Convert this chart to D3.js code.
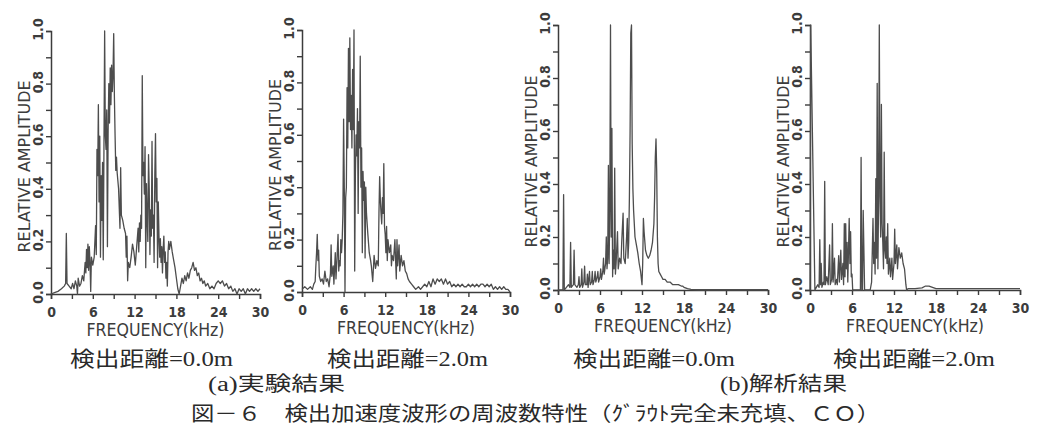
<!DOCTYPE html>
<html><head><meta charset="utf-8">
<script src="https://cdn.jsdelivr.net/npm/d3@7"></script>
<style>
html,body{margin:0;padding:0;background:#fff;}
svg{display:block;}
</style></head>
<body>
<svg id="chart" width="1037" height="436"></svg>
<script>
// ---------------- DATA ----------------
const xTickValues = [0,3,6,9,12,15,18,21,24,27,30];
const xTickLabels = ["0","6","12","18","24","30"];
const yTickValues = [0,0.1,0.2,0.3,0.4,0.5,0.6,0.7,0.8,0.9,1.0];
const yTickLabels = ["0.0","0.2","0.4","0.6","0.8","1.0"];
const xTitle = "FREQUENCY(kHz)";
const yTitle = "RELATIVE AMPLITUDE";
const distanceLabels = ["検出距離=0.0m","検出距離=2.0m","検出距離=0.0m","検出距離=2.0m"];
const groupLabels = ["(a)実験結果","(b)解析結果"];
const caption = "図－６　検出加速度波形の周波数特性（ｸﾞﾗｳﾄ完全未充填、ＣＯ）";

// (a) experiment, distance 0.0 m
const freqA1 = [0,0.5,1.0,1.5,1.9,2.1,2.2,2.3,2.6,2.9,3.1,3.3,3.5,3.7,3.8,3.9,4.1,4.3,4.5,4.7,4.9,5.0,5.1,5.2,5.3,5.4,5.5,5.6,5.7,5.8,6.0,6.2,6.4,6.5,6.6,6.7,6.8,6.9,7.0,7.1,7.2,7.3,7.4,7.5,7.6,7.7,7.8,7.9,8.0,8.1,8.2,8.3,8.4,8.5,8.6,8.7,8.8,8.9,9.0,9.1,9.2,9.3,9.4,9.5,9.7,9.9,10.0,10.1,10.3,10.5,10.7,10.8,10.9,11.0,11.1,11.3,11.5,11.7,11.9,12.1,12.3,12.5,12.6,12.7,12.8,12.9,13.0,13.1,13.2,13.3,13.4,13.5,13.6,13.7,13.8,13.9,14.0,14.1,14.2,14.3,14.4,14.5,14.6,14.7,14.8,14.9,15.0,15.1,15.2,15.3,15.4,15.5,15.6,15.7,15.8,15.9,16.0,16.1,16.2,16.3,16.4,16.5,16.6,16.7,16.8,16.9,17.0,17.2,17.4,17.6,17.8,18.0,18.2,18.4,18.6,18.8,19.0,19.2,19.4,19.6,19.8,20.0,20.2,20.4,20.6,20.8,21.0,21.2,21.4,21.6,21.8,22.0,22.2,22.5,22.8,23.1,23.4,23.7,24.0,24.3,24.6,24.9,25.2,25.5,25.8,26.1,26.4,26.7,27.0,27.3,27.6,27.9,28.2,28.5,28.8,29.1,29.4,29.7,30.0];
const ampA1  = [0,0.005,0.01,0.02,0.03,0.04,0.23,0.04,0.03,0.02,0.04,0.02,0.05,0.03,0.0,0.06,0.03,0.04,0.07,0.05,0.12,0.08,0.17,0.10,0.19,0.09,0.18,0.12,0.01,0.14,0.11,0.14,0.26,0.15,0.55,0.45,0.72,0.35,0.60,0.14,0.45,0.28,0.50,0.13,0.55,1.00,0.60,0.55,0.70,0.18,0.62,0.80,0.65,0.86,0.72,0.87,0.77,0.83,0.99,0.75,0.60,0.47,0.52,0.46,0.40,0.25,0.48,0.30,0.28,0.25,0.23,0.14,0.22,0.05,0.12,0.10,0.14,0.19,0.16,0.11,0.18,0.25,0.16,0.27,0.20,0.30,0.25,0.83,0.45,0.50,0.38,0.56,0.10,0.42,0.29,0.20,0.53,0.40,0.15,0.32,0.22,0.58,0.25,0.30,0.12,0.45,0.61,0.35,0.44,0.10,0.35,0.22,0.14,0.21,0.12,0.18,0.08,0.17,0.22,0.12,0.16,0.06,0.12,0.03,0.16,0.20,0.17,0.20,0.16,0.13,0.10,0.06,0.02,0.0,0.03,0.06,0.04,0.07,0.05,0.08,0.06,0.09,0.10,0.12,0.09,0.10,0.07,0.08,0.05,0.06,0.04,0.05,0.03,0.04,0.02,0.03,0.02,0.04,0.05,0.04,0.05,0.03,0.04,0.02,0.03,0.01,0.02,0.0,0.02,0.01,0.02,0.0,0.02,0.01,0.02,0.01,0.02,0.01,0.02];

// (a) experiment, distance 2.0 m
const freqA2 = [0,0.4,0.8,1.2,1.5,1.7,1.9,2.0,2.1,2.2,2.3,2.4,2.5,2.7,2.9,3.1,3.3,3.5,3.7,3.9,4.1,4.2,4.3,4.5,4.6,4.8,4.9,5.0,5.2,5.3,5.4,5.5,5.6,5.7,5.8,5.9,6.0,6.1,6.2,6.3,6.4,6.5,6.6,6.7,6.8,6.9,7.0,7.1,7.2,7.3,7.4,7.5,7.6,7.7,7.8,7.9,8.0,8.1,8.2,8.3,8.4,8.5,8.6,8.7,8.8,8.9,9.0,9.1,9.2,9.3,9.5,9.7,9.9,10.0,10.2,10.4,10.6,10.8,11.0,11.1,11.2,11.3,11.4,11.5,11.6,11.7,11.8,11.9,12.0,12.1,12.2,12.3,12.4,12.6,12.8,12.9,13.0,13.2,13.4,13.5,13.6,13.7,13.8,14.0,14.1,14.3,14.5,14.7,14.9,15.1,15.3,15.5,15.8,16.1,16.4,16.8,17.1,17.4,17.7,18.0,18.3,18.6,18.9,19.2,19.5,19.8,20.1,20.4,20.7,21.0,21.3,21.6,21.9,22.2,22.5,22.8,23.1,23.4,23.7,24.0,24.3,24.6,24.9,25.2,25.5,25.8,26.1,26.4,26.7,27.0,27.3,27.6,27.9,28.2,28.5,28.8,29.1,29.4,29.7,30.0];
const ampA2  = [0.01,0.02,0.01,0.02,0.01,0.03,0.04,0.10,0.15,0.22,0.12,0.16,0.06,0.04,0.05,0.03,0.08,0.04,0.05,0.02,0.07,0.18,0.06,0.10,0.03,0.15,0.05,0.10,0.22,0.08,0.12,0.10,0.20,0.15,0.20,0.30,0.66,0.40,0.00,0.36,0.40,0.78,0.55,0.93,0.65,0.97,0.62,0.75,0.55,0.85,0.62,1.00,0.08,0.45,0.60,0.52,0.70,0.30,0.65,0.55,0.90,0.40,0.55,0.15,0.46,0.35,0.42,0.13,0.40,0.30,0.22,0.15,0.12,0.10,0.04,0.14,0.09,0.12,0.10,0.30,0.44,0.35,0.30,0.26,0.36,0.30,0.49,0.25,0.22,0.15,0.25,0.12,0.20,0.15,0.18,0.10,0.14,0.12,0.20,0.12,0.05,0.20,0.10,0.18,0.08,0.14,0.10,0.12,0.08,0.07,0.05,0.04,0.03,0.02,0.01,0.02,0.01,0.02,0.03,0.02,0.04,0.02,0.05,0.03,0.05,0.04,0.05,0.03,0.05,0.03,0.04,0.02,0.03,0.02,0.03,0.02,0.03,0.02,0.02,0.03,0.02,0.03,0.02,0.03,0.02,0.03,0.03,0.02,0.03,0.02,0.03,0.01,0.02,0.01,0.02,0.01,0.02,0.01,0.01,0.00];

// (b) analysis, distance 0.0 m
const freqB1 = [0,0.7,0.8,0.9,1.2,1.5,1.7,1.8,1.9,2.2,2.3,2.4,2.7,2.9,3.0,3.1,3.3,3.4,3.5,3.7,3.8,3.9,4.1,4.2,4.3,4.5,4.6,4.8,4.9,5.0,5.2,5.3,5.4,5.6,5.7,5.8,6.0,6.1,6.2,6.4,6.5,6.6,6.8,6.9,7.0,7.1,7.2,7.3,7.4,7.5,7.6,7.7,7.8,7.9,8.0,8.1,8.2,8.3,8.5,8.6,8.8,9.0,9.1,9.3,9.4,9.6,9.8,9.9,10.0,10.1,10.2,10.3,10.4,10.5,10.6,10.7,10.8,11.0,11.2,11.4,11.6,11.8,12.0,12.1,12.2,12.3,12.5,12.7,12.9,13.1,13.3,13.5,13.7,13.8,13.9,14.0,14.1,14.2,14.3,14.4,14.6,14.8,15.0,15.3,15.6,16.0,16.4,16.8,17.2,17.6,17.8,18.0,18.5,19.0,20.0,30.0];
const ampB1  = [0,0,0.36,0,0.01,0.02,0.01,0.18,0.01,0.02,0.15,0.02,0.01,0.02,0.05,0.01,0.02,0.08,0.01,0.03,0.09,0.02,0.02,0.06,0.01,0.07,0.02,0.03,0.07,0.02,0.04,0.07,0.03,0.05,0.07,0.03,0.05,0.08,0.04,0.07,0.12,0.06,0.10,0.20,0.08,0.12,0.47,0.10,0.30,1.00,0.20,0.61,0.05,0.15,0.08,0.46,0.06,0.10,0.22,0.08,0.12,0.10,0.18,0.29,0.12,0.10,0.20,0.27,0.12,0.18,0.35,0.60,0.97,1.00,0.55,0.38,0.30,0.20,0.17,0.14,0.10,0.07,0.02,0.10,0.27,0.22,0.15,0.13,0.12,0.13,0.15,0.18,0.25,0.35,0.50,0.57,0.45,0.20,0.10,0.07,0.06,0.05,0.04,0.04,0.03,0.03,0.02,0.02,0.02,0.015,0.015,0.01,0.005,0.002,0.001,0.001];

// (b) analysis, distance 2.0 m
const freqB2 = [0,0.1,0.7,0.9,1.1,1.3,1.4,1.5,1.6,1.7,1.9,2.0,2.1,2.2,2.4,2.6,2.8,2.9,3.1,3.2,3.3,3.5,3.6,3.8,3.9,4.1,4.2,4.4,4.5,4.7,4.8,4.9,5.0,5.1,5.2,5.3,5.4,5.6,5.7,5.8,5.9,6.0,6.1,7.2,7.3,7.4,7.5,7.6,7.8,8.6,8.8,9.0,9.1,9.2,9.3,9.4,9.5,9.6,9.7,9.8,9.9,10.0,10.1,10.2,10.3,10.4,10.5,10.6,10.7,10.8,10.9,11.0,11.1,11.2,11.4,11.5,11.7,11.8,12.0,12.1,12.2,12.4,12.5,12.7,12.9,13.1,13.3,13.5,13.7,13.8,14.0,15.0,16.0,16.5,17.0,17.5,18.0,30.0];
const ampB2  = [0,1.00,0,0.01,0.02,0.01,0.19,0.02,0.10,0.01,0.03,0.02,0.41,0.02,0.05,0.02,0.17,0.02,0.04,0.25,0.03,0.12,0.02,0.04,0.02,0.13,0.03,0.15,0.04,0.10,0.02,0.25,0.05,0.25,0.08,0.18,0.03,0.27,0.10,0.22,0.05,0.06,0,0,0.50,0,0,0.30,0,0,0.03,0.27,0.10,0.18,0.06,0.42,0.12,0.78,0.08,0.35,1.00,0.35,0.20,0.70,0.25,0.18,0.08,0.52,0.15,0.12,0.20,0.10,0.25,0.06,0.12,0.05,0.12,0.04,0.10,0.23,0.10,0.17,0.08,0.16,0.12,0.14,0.10,0.08,0.02,0,0.005,0.005,0.008,0.015,0.015,0.01,0.005,0.005];

// ---------------- LAYOUT ----------------
const panels = [
  {f: freqA1, a: ampA1, x0: 51,  x1: 260,  yT: 31, yB: 294, dist: distanceLabels[0], dx0: 70,  dx1: 233},
  {f: freqA2, a: ampA2, x0: 302, x1: 510,  yT: 30, yB: 292, dist: distanceLabels[1], dx0: 327, dx1: 488},
  {f: freqB1, a: ampB1, x0: 558, x1: 768,  yT: 25, yB: 290, dist: distanceLabels[2], dx0: 573, dx1: 735},
  {f: freqB2, a: ampB2, x0: 810, x1: 1020, yT: 25, yB: 290, dist: distanceLabels[3], dx0: 833, dx1: 995}
];

const svg = d3.select("#chart");
svg.append("rect").attr("width",1037).attr("height",436).attr("fill","#ffffff");

const ink = "#3c3c3c";
const lineInk = "#4d4d4d";
const plotFont = "'DejaVu Sans Condensed','DejaVu Sans',sans-serif";

panels.forEach(p => {
  const x = d3.scaleLinear().domain([0,30]).range([p.x0, p.x1]);
  const y = d3.scaleLinear().domain([0,1]).range([p.yB, p.yT]);
  const g = svg.append("g");

  // x axis
  const xa = g.append("g").attr("transform", `translate(0,${p.yB})`)
    .call(d3.axisBottom(x).tickValues(xTickValues).tickSizeOuter(0).tickSize(5)
      .tickFormat(d => d % 6 === 0 ? xTickLabels[d/6] : ""));
  xa.select(".domain").attr("stroke", ink).attr("stroke-width", 1.5);
  xa.selectAll(".tick line").attr("stroke", ink).attr("stroke-width", 1.4);
  xa.selectAll(".tick text").attr("fill", ink).attr("y", 13)
    .style("font-family", plotFont).style("font-size","14px").style("font-weight","bold");

  // y axis
  const ya = g.append("g").attr("transform", `translate(${p.x0},0)`)
    .call(d3.axisLeft(y).tickValues(yTickValues).tickSizeOuter(0).tickSize(5)
      .tickFormat((d,i) => i % 2 === 0 ? yTickLabels[i/2] : ""));
  ya.select(".domain").attr("stroke", ink).attr("stroke-width", 1.5);
  ya.selectAll(".tick line").attr("stroke", ink).attr("stroke-width", 1.4);
  ya.selectAll(".tick text").attr("fill", ink)
    .attr("x", null).attr("dy", null)
    .attr("text-anchor","middle").attr("dominant-baseline","central")
    .attr("transform","translate(-13,-2) rotate(-90)")
    .style("font-family", plotFont).style("font-size","14px").style("font-weight","bold");

  // spectrum line
  const data = p.f.map((v,i) => [v, p.a[i]]);
  g.append("path").datum(data)
    .attr("fill","none").attr("stroke", lineInk).attr("stroke-width", 1.3)
    .attr("stroke-linejoin","round")
    .attr("d", d3.line().x(d => x(d[0])).y(d => y(d[1])));

  // axis titles
  g.append("text").attr("x", (p.x0+p.x1)/2).attr("y", p.yB + 42)
    .attr("text-anchor","middle").attr("fill", ink)
    .attr("textLength", 138).attr("lengthAdjust","spacingAndGlyphs")
    .style("font-family", plotFont).style("font-size","18px")
    .text(xTitle);
  const yc = (p.yT + p.yB)/2 + 4;
  g.append("text").attr("transform", `translate(${p.x0-27},${yc}) rotate(-90)`)
    .attr("text-anchor","middle").attr("dominant-baseline","central").attr("fill", ink)
    .attr("textLength", 172).attr("lengthAdjust","spacingAndGlyphs")
    .style("font-family", plotFont).style("font-size","16.5px")
    .text(yTitle);

  // distance label
  const cjk = p.dist.slice(0,4), rest = p.dist.slice(4);
  const t = svg.append("text").attr("x", p.dx0).attr("y", 366).attr("fill","#2a2a2a")
    .attr("textLength", p.dx1 - p.dx0).attr("lengthAdjust","spacingAndGlyphs")
    .style("font-size","21px");
  t.append("tspan").style("font-family","'Noto Sans CJK JP',sans-serif").text(cjk);
  t.append("tspan").style("font-family","'Liberation Serif',serif").text(rest);
});

// group labels
const groupPos = [[208,345],[720,847]];
groupLabels.forEach((s,i) => {
  const t = svg.append("text").attr("x", groupPos[i][0]).attr("y", 391).attr("fill","#2a2a2a")
    .attr("textLength", groupPos[i][1]-groupPos[i][0]).attr("lengthAdjust","spacingAndGlyphs")
    .style("font-size","20px");
  t.append("tspan").style("font-family","'Liberation Serif',serif").text(s.slice(0,3));
  t.append("tspan").style("font-family","'Noto Sans CJK JP',sans-serif").text(s.slice(3));
});

// caption
svg.append("text").attr("x", 191).attr("y", 421).attr("fill","#2a2a2a")
  .attr("textLength", 689).attr("lengthAdjust","spacingAndGlyphs")
  .style("font-family","'Noto Sans CJK JP',sans-serif").style("font-size","20px")
  .text(caption);
</script>
</body></html>
